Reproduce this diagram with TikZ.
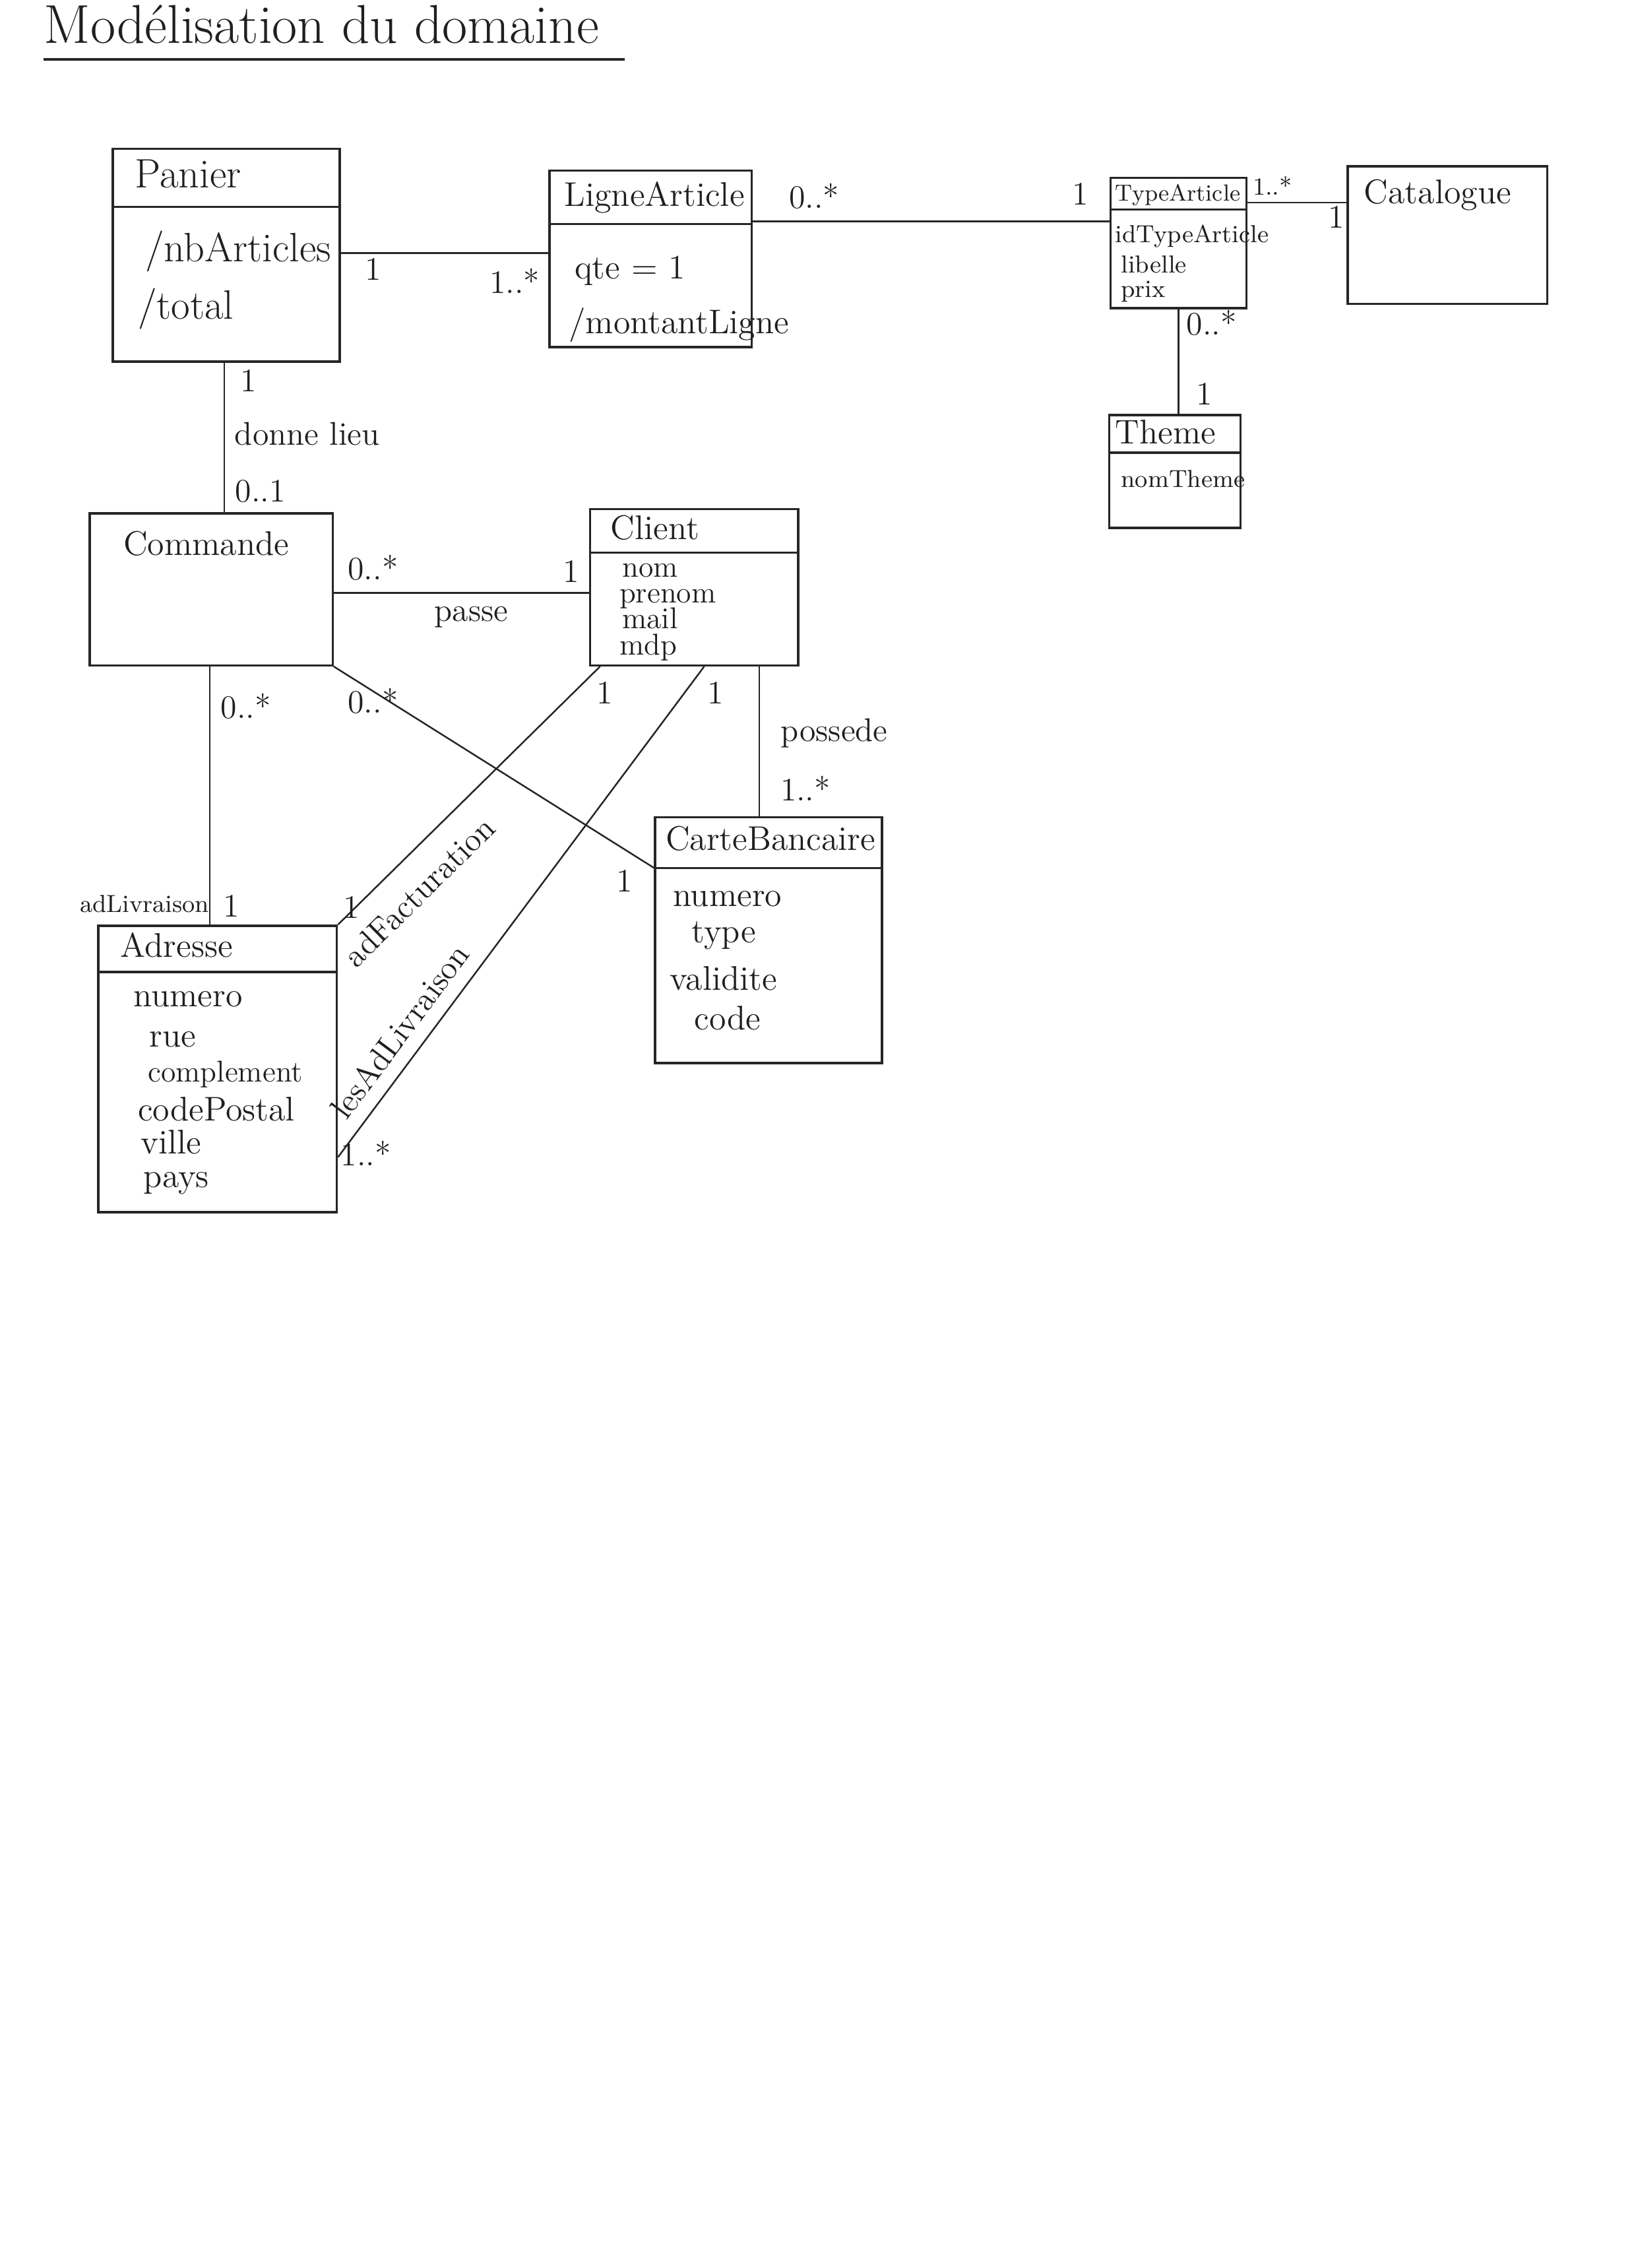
\documentclass[tikz,border=0pt]{standalone}
\usetikzlibrary{fit}
\begin{document}
\begin{tikzpicture}[x=0.018568cm, y=-0.018568cm,
  ink/.style={draw=black!85, line width=0.8pt},
  cls/.style={ink, rectangle, inner sep=0pt},
  link/.style={draw=black!85, line width=0.6pt},
  txt/.style={inner sep=0pt, anchor=west, text=black!88, text height=0.7em, text depth=0.2em},
  lab/.style={inner sep=0pt, text=black!88, text height=0.7em, text depth=0.2em, font=\fontsize{12}{12}\selectfont},
  fT/.style={font=\fontsize{20}{20}\selectfont},
  fL/.style={font=\fontsize{15}{15}\selectfont},
  fM/.style={font=\fontsize{12.5}{12.5}\selectfont},
  fS/.style={font=\fontsize{9}{9}\selectfont},
  fC/.style={font=\fontsize{11}{11}\selectfont}]

\useasboundingbox (0,0) rectangle (1131,1568);
\fill[white] (0,0) rectangle (1131,1568);

% heading
\node[txt, fT] (titre) at (30,25) {Modélisation du domaine};
\draw[black!85, line width=1.1pt] (30,41) -- (432,41);

% ---------- classes ----------
\node[cls, fit={(78,103) (235,250)}] (panier) {};
\draw[ink] (panier.west |- 0,143) -- (panier.east |- 0,143);
\node[txt, fL] (panierN) at (93,125) {Panier};
\node[txt, fL] (panierA1) at (100,176) {/nbArticles};
\node[txt, fL] (panierA2) at (95,216) {/total};

\node[cls, fit={(380,118) (520,240)}] (ligne) {};
\draw[ink] (ligne.west |- 0,155) -- (ligne.east |- 0,155);
\node[txt, fM] (ligneN) at (390,138) {LigneArticle};
\node[txt, fM] (ligneA1) at (397,188) {qte = 1};
\node[txt, fM] (ligneA2) at (393,226) {/montantLigne};

\node[cls, fit={(768,123) (862,213)}] (type) {};
\draw[ink] (type.west |- 0,145) -- (type.east |- 0,145);
\node[txt, font=\fontsize{8.5}{8.5}\selectfont] (typeN) at (771,134) {TypeArticle};
\node[txt, fS] (typeA1) at (771,163) {idTypeArticle};
\node[txt, fS] (typeA2) at (775,184) {libelle};
\node[txt, fS] (typeA3) at (775,201) {prix};

\node[cls, fit={(932,115) (1070,210)}] (cata) {};
\node[txt, fM] (cataN) at (943,136) {Catalogue};

\node[cls, fit={(767,287) (858,365)}] (theme) {};
\draw[ink] (theme.west |- 0,313) -- (theme.east |- 0,313);
\node[txt, fM] (themeN) at (771,302) {Theme};
\node[txt, fS] (themeA1) at (775,332) {nomTheme};

\node[cls, fit={(62,355) (230,460)}] (commande) {};
\node[txt, fM] (commandeN) at (85,379) {Commande};

\node[cls, fit={(408,352) (552,460)}] (client) {};
\draw[ink] (client.west |- 0,382) -- (client.east |- 0,382);
\node[txt, fM] (clientN) at (422,368) {Client};
\node[txt, fC] (clientA1) at (430,394) {nom};
\node[txt, fC] (clientA2) at (428,412) {prenom};
\node[txt, fC] (clientA3) at (430,430) {mail};
\node[txt, fC] (clientA4) at (428,448) {mdp};

\node[cls, fit={(453,565) (610,735)}] (carte) {};
\draw[ink] (carte.west |- 0,600) -- (carte.east |- 0,600);
\node[txt, fM] (carteN) at (460,583) {CarteBancaire};
\node[txt, fM] (carteA1) at (465,622) {numero};
\node[txt, fM] (carteA2) at (478,647) {type};
\node[txt, fM] (carteA3) at (463,680) {validite};
\node[txt, fM] (carteA4) at (480,707) {code};

\node[cls, fit={(68,640) (233,838)}] (adresse) {};
\draw[ink] (adresse.west |- 0,672) -- (adresse.east |- 0,672);
\node[txt, fM] (adresseN) at (83,657) {Adresse};
\node[txt, fM] (adresseA1) at (92,691) {numero};
\node[txt, fM] (adresseA2) at (103,719) {rue};
\node[txt, fC] (adresseA3) at (102,743) {complement};
\node[txt, fM] (adresseA4) at (95,770) {codePostal};
\node[txt, fM] (adresseA5) at (97,793) {ville};
\node[txt, fM] (adresseA6) at (99,816) {pays};

% ---------- associations ----------
\draw[link] (panier.east |- 0,175) -- (ligne.west |- 0,175);
\node[lab] (m1a) at (258,189) {1};
\node[lab] (m1b) at (356,198) {1..*};

\draw[link] (ligne.east |- 0,153) -- (type.west |- 0,153);
\node[lab] (m2a) at (563,139) {0..*};
\node[lab] (m2b) at (747,137) {1};

\draw[link] (type.east |- 0,140) -- (cata.west |- 0,140);
\node[lab, font=\fontsize{9}{9}\selectfont] (m3a) at (880,130) {1..*};
\node[lab] (m3b) at (924,153) {1};

\draw[link] (type.south -| 815,0) -- (theme.north -| 815,0);
\node[lab] (m4a) at (838,227) {0..*};
\node[lab] (m4b) at (833,275) {1};

\draw[link] (panier.south -| 155,0) -- (commande.north -| 155,0);
\node[lab] (m5a) at (172,266) {1};
\node[lab, anchor=west] (donne) at (162,303) {donne lieu};
\node[lab] (m5b) at (180,342) {0..1};

\draw[link] (commande.east |- 0,410) -- (client.west |- 0,410);
\node[lab] (m6a) at (258,396) {0..*};
\node[lab] (m6b) at (395,398) {1};
\node[lab] (passe) at (326,425) {passe};

\draw[link] (commande.south -| 145,0) -- (adresse.north -| 145,0);
\node[lab] (m7a) at (170,492) {0..*};
\node[lab, font=\fontsize{9}{9}\selectfont] (adliv) at (100,626) {adLivraison};
\node[lab] (m7b) at (160,629) {1};

\draw[link] (commande.south east) -- (carte.west |- 0,600);
\node[lab] (m8a) at (258,488) {0..*};
\node[lab] (m8b) at (432,612) {1};

\draw[link] (adresse.north east) -- node[lab, pos=0.22, sloped, below=9pt] (adfact) {adFacturation} (client.south -| 415,0);
\node[lab] (m9a) at (418,482) {1};
\node[lab] (m9b) at (243,630) {1};

\draw[link] (adresse.east |- 0,800) -- node[lab, pos=0.225, sloped, above=3pt] (lesadliv) {lesAdLivraison} (client.south -| 487,0);
\node[lab] (m10a) at (495,482) {1};
\node[lab] (m10b) at (253,801) {1..*};

\draw[link] (client.south -| 525,0) -- (carte.north -| 525,0);
\node[lab] (possede) at (577,508) {possede};
\node[lab] (m11a) at (557,549) {1..*};

\end{tikzpicture}
\end{document}
